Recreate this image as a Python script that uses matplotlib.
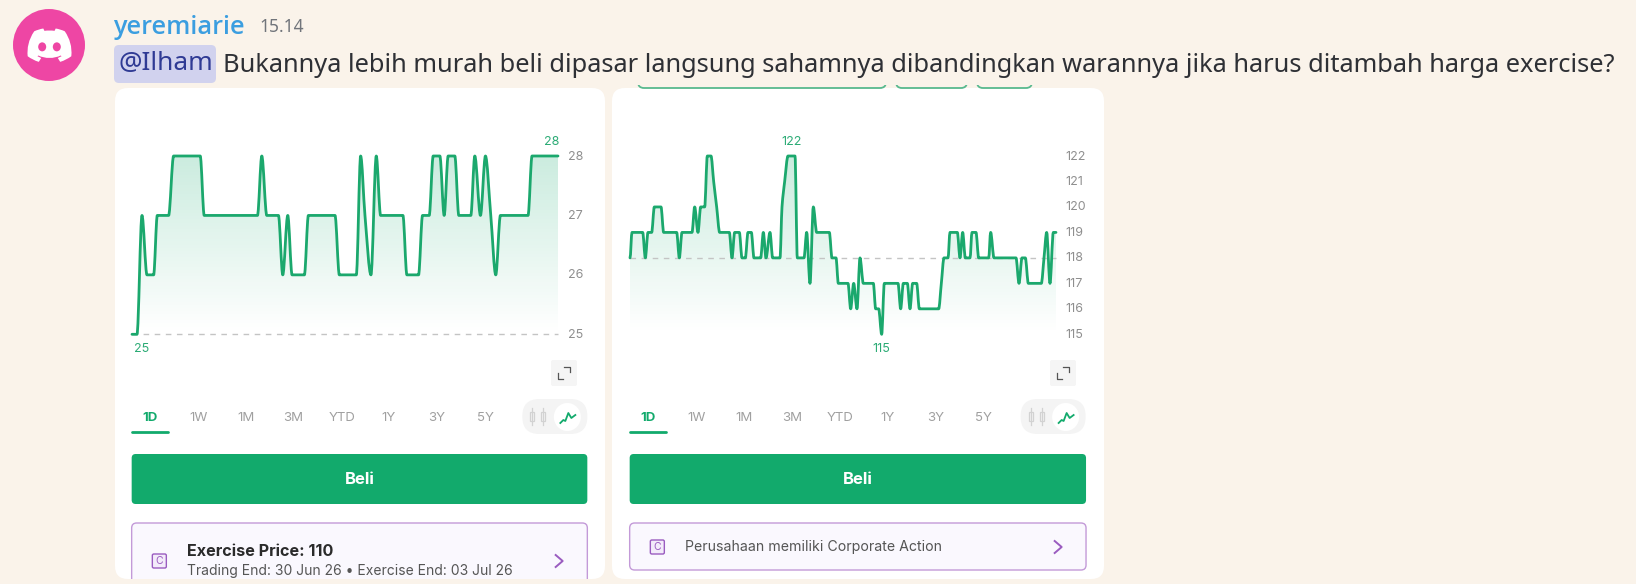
import matplotlib
matplotlib.use("Agg")
import matplotlib.pyplot as plt
import numpy as np
from matplotlib.patches import FancyBboxPatch, Circle, Ellipse, PathPatch, Rectangle
from matplotlib.path import Path
from matplotlib.transforms import ScaledTranslation

# data
warrant_t = [0, 15, 30, 45, 65, 76, 110, 125, 205, 217, 377, 390, 405, 440, 453, 468, 481, 518, 530, 610,
             623, 674, 687, 700, 718, 734, 747, 814, 826, 861, 873, 893, 905, 925, 938, 950, 970, 982, 1018,
             1030, 1047, 1062, 1078, 1093, 1107, 1190, 1202, 1280]
warrant_v = [25, 25, 27, 26, 26, 27, 27, 28, 28, 27, 27, 28, 27, 27, 26, 27, 26, 26, 27, 27,
             26, 26, 28, 27, 26, 28, 27, 27, 26, 26, 27, 27, 28, 28, 27, 28, 28, 27, 27,
             28, 27, 28, 27, 26, 27, 27, 28, 28]
warrant_ticks = [25, 26, 27, 28]

stock_t = [0, 6, 38, 46, 54, 65, 73, 93, 101, 140, 148, 156, 186, 194, 204, 212, 224, 232, 243, 251, 260, 269,
           298, 306, 314, 328, 336, 346, 354, 364, 372, 392, 400, 408, 420, 428, 450, 456, 464, 474, 495, 502,
           522, 530, 540, 550, 560, 598, 606, 618, 625, 654, 662, 671, 681, 690, 700, 730, 737, 746, 755, 763,
           804, 812, 820, 832, 840, 848, 860, 868, 926, 934, 942, 954, 960, 982, 990, 998, 1006, 1020, 1026,
           1038, 1046, 1076, 1082, 1092, 1158, 1167, 1176, 1186, 1195, 1234, 1242, 1250, 1260, 1270, 1278]
stock_v = [118, 119, 119, 118, 119, 119, 120, 120, 119, 119, 118, 119, 119, 120, 119, 120, 120, 122, 122, 121, 120, 119,
           119, 118, 119, 119, 118, 118, 119, 119, 118, 118, 119, 118, 119, 118, 118, 120, 121, 122, 122, 118,
           118, 119, 117, 120, 119, 119, 118, 118, 117, 117, 116, 117, 116, 118, 117, 117, 116, 116, 115, 117,
           117, 116, 117, 117, 116, 117, 117, 116, 116, 117, 118, 118, 119, 119, 118, 119, 118, 118, 119,
           119, 118, 118, 119, 118, 118, 117, 118, 118, 117, 117, 118, 119, 117, 119, 119]
stock_ticks = [115, 116, 117, 118, 119, 120, 121, 122]

periods = ["1D", "1W", "1M", "3M", "YTD", "1Y", "3Y", "5Y"]

BG = "#faf3ea"
GREEN = "#12aa6c"
LINE = "#1ba86d"
PURPLE = "#9a5cc0"
CARD_FONT = "Inter"
plt.rcParams["font.family"] = ["Noto Sans", "DejaVu Sans"]


def round_box(ax, x0, y0, x1, y1, r, **kw):
    p = FancyBboxPatch((x0, y0), x1 - x0, y1 - y0, boxstyle=f"round,pad=0,rounding_size={r}", **kw)
    ax.add_patch(p)
    return p


def smooth(t, v):
    # horizontal tangents at flats and turns, so the steps look rounded
    t = np.array(t, float)
    v = np.array(v, float)
    d = np.diff(v) / np.diff(t)
    m = np.zeros(len(t))
    for i in range(1, len(t) - 1):
        if d[i - 1] * d[i] > 0:
            m[i] = 2 * d[i - 1] * d[i] / (d[i - 1] + d[i])
    verts = [(t[0], v[0])]
    codes = [Path.MOVETO]
    for i in range(len(t) - 1):
        h = (t[i + 1] - t[i]) / 3
        verts += [(t[i] + h, v[i] + m[i] * h), (t[i + 1] - h, v[i + 1] - m[i + 1] * h), (t[i + 1], v[i + 1])]
        codes += [Path.CURVE4] * 3
    return verts, codes


def draw_chart(px, t, v, ticks, base, label_hi, label_lo):
    # px = left, right, top, bottom of the plot in image pixels
    ax = fig.add_axes([px[0] / W, 1 - px[3] / H, (px[1] - px[0]) / W, (px[3] - px[2]) / H])
    ax.patch.set_alpha(0)
    xmax = t[-1]
    for s in ax.spines.values():
        s.set_visible(False)
    ax.set_xticks([])
    ax.yaxis.tick_right()
    ax.set_yticks(ticks)
    ax.tick_params(axis="y", length=0, pad=7, labelsize=9, labelcolor="#8f8f8f")
    for lab in ax.get_yticklabels():
        lab.set_family(CARD_FONT)
        lab.set_transform(lab.get_transform() + ScaledTranslation(0, 0.7 / 72, fig.dpi_scale_trans))

    verts, codes = smooth(t, v)
    low = min(ticks)
    fill = Path(verts + [(t[-1], low), (t[0], low), (t[0], low)], codes + [Path.LINETO, Path.LINETO, Path.CLOSEPOLY])
    clip = PathPatch(fill, fc="none", ec="none", transform=ax.transData)
    ax.add_patch(clip)
    grad = np.zeros((100, 1, 4))
    grad[:, :, :3] = (0.07, 0.66, 0.42)
    grad[:, 0, 3] = np.linspace(0.22, 0, 100)
    im = ax.imshow(grad, extent=[0, xmax, low, max(ticks)], aspect="auto", zorder=1)
    im.set_clip_path(clip)
    ax.set_xlim(0, xmax)
    ax.set_ylim(low, max(ticks))

    ax.axhline(base, color="#c4c4c4", lw=1, dashes=(4, 4), zorder=2, clip_on=False)
    ax.add_patch(PathPatch(Path(verts, codes), fc="none", ec=LINE, lw=2.0, zorder=3, clip_on=False,
                           capstyle="round", joinstyle="round"))
    ax.annotate(str(label_hi[1]), (label_hi[0], label_hi[1]), xytext=(0, 6), textcoords="offset points",
                ha="center", va="bottom", fontsize=9, color="#2bab75", family=CARD_FONT)
    ax.annotate(str(label_lo[1]), (label_lo[0], label_lo[1]), xytext=(0, -6), textcoords="offset points",
                ha="center", va="top", fontsize=9, color="#2bab75", family=CARD_FONT)
    return ax


W, H = 1636, 584
fig = plt.figure(figsize=(W / 100, H / 100), dpi=100, facecolor=BG)
main = fig.add_axes([0, 0, 1, 1])
main.set_xlim(0, W)
main.set_ylim(H, 0)
main.axis("off")

# avatar
main.add_patch(Circle((49, 45), 36, fc="#ee46a4", ec="none"))
logo_v = [(107.7, 8.07), (99.4, 4.3), (90.6, 1.5), (81.47, 0), (78.11, 6.83), (68.4, 5.4), (58.7, 5.4), (49, 6.83),
          (45.64, 0), (36.5, 1.5), (27.7, 4.3), (19.39, 8.09), (2.79, 32.65), (-1.71, 56.6), (0.54, 80.21),
          (10, 87), (21, 93), (32.71, 96.36), (39.6, 85.25), (28.75, 80.07), (31.41, 78.07), (51, 87.5), (76, 87.5),
          (95.73, 78.07), (98.39, 80.07), (87.52, 85.26), (94.41, 96.36), (106, 93), (117, 87), (126.6, 80.22),
          (129.24, 52.84), (122.09, 29.11), (107.7, 8.07)]
c4, l = Path.CURVE4, Path.LINETO
logo_c = [Path.MOVETO, c4, c4, c4, l, c4, c4, c4, l, c4, c4, c4, c4, c4, c4, c4, c4, c4, l, l, l, c4, c4, c4, l, l, l,
          c4, c4, c4, c4, c4, c4]
s = 44 / 127.14
lx, ly = 27.5, 28.5
main.add_patch(PathPatch(Path([(lx + a * s, ly + b * s) for a, b in logo_v], logo_c), fc="white", ec="none"))
main.add_patch(Ellipse((lx + 42.45 * s, ly + 53 * s), 8, 9, fc="#ee46a4", ec="none"))
main.add_patch(Ellipse((lx + 84.69 * s, ly + 53 * s), 8, 9, fc="#ee46a4", ec="none"))

# message header
main.text(113.5, 27, "yeremiarie", fontsize=18.2, color="#3b9ee0", va="center", fontweight="semibold", family="Open Sans")
main.text(259, 27, "15.14", fontsize=12.5, color="#71757b", va="center")
round_box(main, 114, 45, 216, 83, 5, fc="#d1d2ee", ec="none")
main.text(118, 64, "@Ilham", fontsize=18.9, color="#2f3a94", va="center")
main.text(223, 65, "Bukannya lebih murah beli dipasar langsung sahamnya dibandingkan warannya jika harus ditambah harga exercise?",
          fontsize=18.3, color="#2e3035", va="center")

# tags poking out above the right card, only their lower edge shows
for x0, x1 in [(638, 886), (896, 967), (977, 1032)]:
    tag = round_box(main, x0, 70, x1, 88, 6, fc=BG, ec="#58b98e", lw=1.3)
    tag.set_clip_path(Rectangle((0, 85), W, 10, transform=main.transData))

cards = [
    dict(box=(115, 605), dx=115, chart=(132, 558, 156, 334.3)),
    dict(box=(612, 1104), dx=610, chart=(630, 1056, 156, 334.3)),
]
tab_x = [[105, 250, 392, 535, 680, 822, 965, 1110], [113, 259, 402, 546, 690, 832, 976, 1121]]

for i, c in enumerate(cards):
    card = round_box(main, c["box"][0], 88, c["box"][1], 579, 13, fc="white", ec="none", zorder=0.5)
    dx = c["dx"]
    off = 0 if i == 0 else 3  # right card sits a little further in

    # expand button
    bx = 551 if i == 0 else 1050
    round_box(main, bx, 360, bx + 26, 386, 2, fc="#f5f5f5", ec="none")
    main.plot([bx + 7, bx + 7, bx + 12], [373, 379, 379], color="#555555", lw=0.9)
    main.plot([bx + 13, bx + 19, bx + 19], [367, 367, 372], color="#555555", lw=0.9)

    # period tabs
    for j, p in enumerate(periods):
        active = j == 0
        main.text(dx + tab_x[i][j] / 3, 418, p, ha="center", va="center", fontsize=9.5, family=CARD_FONT,
                  color=GREEN if active else "#a0a0a0", fontweight="bold" if active else "normal")
    ux = dx + (52 + off * 3) / 3
    main.plot([ux, ux + 36], [432, 432], color=GREEN, lw=2, solid_capstyle="round")

    # chart type toggle
    pill = dx + (1222 + off * 3.3) / 3
    round_box(main, pill, 399, pill + 65, 434, 17, fc="#f4f4f4", ec="none")
    main.add_patch(Ellipse((pill + 45, 417), 27, 28, fc="white", ec="none"))
    for k in (10, 21):
        main.add_patch(Rectangle((pill + k - 2, 412), 4, 9, fc="none", ec="#d2d2d2", lw=0.9))
        main.plot([pill + k, pill + k], [408, 425], color="#d2d2d2", lw=0.9, zorder=1)
    main.plot(pill + 45 + np.array([-7, -4, -2, 1, 4, 8]), [423, 420, 421, 413, 418, 415], color=GREEN, lw=1.3)

    # buy button
    x0, x1 = dx + (50 + off * 3) / 3, dx + (1417 + off * 3.7) / 3
    round_box(main, x0, 454, x1, 504, 4, fc=GREEN, ec="none")
    main.text((x0 + x1) / 2, 480, "Beli", ha="center", va="center", fontsize=12, color="white", fontweight="bold", family=CARD_FONT)

    # corporate action box
    y1 = 600 if i == 0 else 570
    b = round_box(main, x0, 523, x1, y1, 5, fc="#faf8fe", ec="#c39ad8", lw=1)
    b.set_clip_path(card)
    iy = 561 if i == 0 else 547
    ix = dx + (112 + off * 3) / 3
    round_box(main, ix, iy - 7, ix + 14, iy + 7, 1.5, fc="#f3ebfa", ec=PURPLE, lw=1)
    main.text(ix + 7, iy, "C", ha="center", va="center", fontsize=7.5, color=PURPLE, family=CARD_FONT)
    cx = dx + (1322 + off * 4) / 3
    main.plot([cx, cx + 7, cx], [iy - 6, iy, iy + 6], color=PURPLE, lw=1.4)

    if i == 0:
        main.text(187, 551, "Exercise Price: 110", fontsize=11.6, fontweight="bold", color="#2b2b2b", va="center", family=CARD_FONT)
        main.text(187, 571, "Trading End: 30 Jun 26 \u2022 Exercise End: 03 Jul 26", fontsize=10, color="#555555", va="center", family=CARD_FONT)
    else:
        main.text(685, 546.5, "Perusahaan memiliki Corporate Action", fontsize=10.2, color="#555555", va="center", family=CARD_FONT)

draw_chart(cards[0]["chart"], warrant_t, warrant_v, warrant_ticks, 25, (1262, 28), (30, 25))
draw_chart(cards[1]["chart"], stock_t, stock_v, stock_ticks, 118, (484, 122), (755, 115))

fig.savefig("out.png", dpi=100, facecolor=BG)
